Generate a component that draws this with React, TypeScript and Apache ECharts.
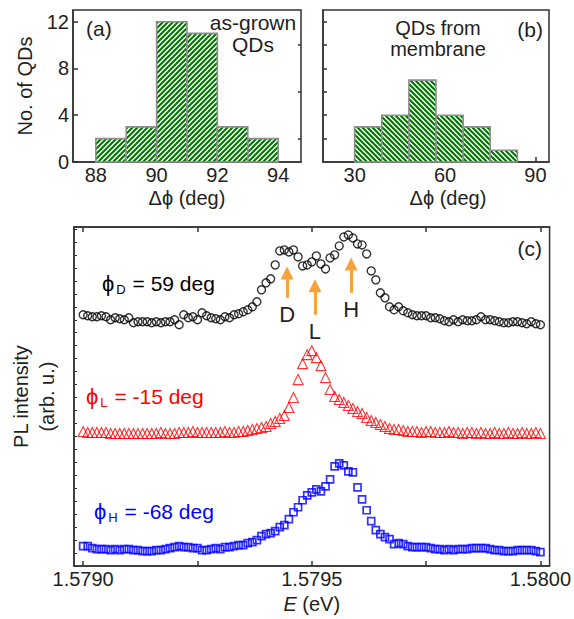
import React, { useEffect, useRef } from 'react';
import * as echarts from 'echarts';

const FONT = '"Liberation Sans", Arial, Helvetica, sans-serif';
const TXT = '#231f20';

// Histogram (a): as-grown QDs
const A_EDGES = [88, 89, 90, 91, 92, 93, 94];
const A_COUNTS = [2, 3, 12, 11, 3, 2];
// Histogram (b): QDs from membrane
const B_EDGES = [30, 39, 48, 57, 66, 75, 84];
const B_COUNTS = [3, 4, 7, 4, 3, 1];

const A_TICKS = [88, 90, 92, 94];
const B_TICKS = [30, 60, 90];
const COUNT_LABELS = [0, 4, 8, 12];
const COUNT_MINOR = [2, 6, 10];
const COUNT_B_TICKS = [2, 4, 6, 8, 10, 12];

const E_TICKS = [1.579, 1.57925, 1.5795, 1.57975, 1.58];
const E_LABELS = [1.579, 1.5795, 1.58];
const E_START = 1.579;
const E_STEP = 0.00001;

// PL spectra (arb. u., vertically offset as in the figure)
const PL_D = [
  252, 251, 250, 250, 251, 250, 247, 249, 248, 247,
  249, 244, 245, 245, 245, 244, 245, 244, 245, 245,
  247, 242, 252, 249, 250, 247, 254, 251, 249, 248,
  247, 250, 249, 252, 253, 255, 257, 260, 265, 277,
  284, 288, 302, 316, 317, 315, 317, 310, 301, 302,
  305, 311, 303, 298, 309, 312, 321, 330, 332, 329,
  323, 322, 313, 296, 287, 274, 269, 260, 257, 260,
  256, 254, 252, 251, 251, 251, 249, 249, 248, 246,
  245, 247, 245, 247, 246, 246, 247, 250, 247, 247,
  246, 245, 244, 244, 245, 245, 244, 243, 245, 243, 242,
];
const PL_L = [
  135, 134, 134, 134, 134, 134, 133, 133, 133, 133,
  133, 133, 133, 133, 133, 133, 133, 134, 133, 133,
  133, 134, 134, 134, 135, 134, 134, 134, 134, 134,
  134, 135, 134, 134, 135, 135, 136, 137, 138, 139,
  140, 143, 145, 148, 151, 159, 169, 187, 203, 212,
  216, 209, 201, 189, 177, 170, 167, 164, 161, 158,
  155, 153, 149, 146, 144, 142, 140, 138, 137, 137,
  136, 135, 135, 135, 134, 135, 135, 134, 134, 134,
  135, 134, 134, 133, 134, 134, 133, 134, 133, 133,
  134, 133, 133, 134, 133, 133, 134, 133, 133, 134, 133,
];
const PL_H = [
  20, 20, 18, 17, 17, 17, 16, 17, 16, 17,
  17, 16, 16, 15, 15, 15, 16, 16, 17, 18,
  19, 20, 19, 19, 18, 18, 16, 16, 17, 18,
  17, 19, 19, 20, 21, 21, 23, 24, 26, 30,
  32, 33, 35, 39, 41, 47, 54, 59, 66, 71,
  74, 77, 75, 80, 87, 100, 103, 101, 95, 94,
  79, 67, 56, 45, 36, 32, 29, 27, 22, 23,
  22, 20, 19, 19, 19, 19, 18, 17, 17, 16,
  17, 16, 17, 17, 17, 18, 18, 18, 18, 17,
  16, 16, 15, 15, 15, 16, 16, 16, 16, 15, 14,
];

// Peak markers (arrows) on the top spectrum
const ARROW_NAMES = ['D', 'L', 'H'];
const ARROW_E = [1.579446, 1.579507, 1.579586];
const ARROW_FROM = [269, 252, 274];
const ARROW_TO = [294, 281, 303];

function hatch(dir: string) {
  const s = 5;
  const c = document.createElement('canvas');
  c.width = s;
  c.height = s;
  const g = c.getContext('2d')!;
  g.fillStyle = '#ffffff';
  g.fillRect(0, 0, s, s);
  g.strokeStyle = '#007800';
  g.lineWidth = 2.1;
  g.beginPath();
  if (dir === '/') {
    g.moveTo(-1, s + 1); g.lineTo(s + 1, -1);
    g.moveTo(-1, 1); g.lineTo(1, -1);
    g.moveTo(s - 1, s + 1); g.lineTo(s + 1, s - 1);
  } else {
    g.moveTo(-1, -1); g.lineTo(s + 1, s + 1);
    g.moveTo(-1, s - 1); g.lineTo(1, s + 1);
    g.moveTo(s - 1, -1); g.lineTo(s + 1, 1);
  }
  g.stroke();
  return c;
}

function histData(edges: number[], counts: number[]) {
  return counts.map((c, i) => [edges[i], edges[i + 1], c]);
}

function spectrum(vals: number[]) {
  return vals.map((v, i) => [+(E_START + i * E_STEP).toFixed(6), v]);
}

const labelStyle = { fontSize: 20, fontFamily: FONT, color: TXT };
const axisLineStyle = { color: '#333', width: 1.5 };
const ANN = 21;

function phiLabel(sub: string, rest: string, color: string, x: number, y: number) {
  return {
    type: 'text',
    x,
    y,
    style: {
      text: `{p|ϕ}{s|${sub}}{t|${rest}}`,
      verticalAlign: 'middle',
      fill: color,
      rich: {
        p: { fontSize: 22, lineHeight: 26, fontFamily: FONT, fill: color },
        s: { fontSize: 13, lineHeight: 15, verticalAlign: 'bottom', fontFamily: FONT, fill: color, padding: [0, 1, 0, 2] },
        t: { fontSize: ANN, lineHeight: 26, fontFamily: FONT, fill: color },
      },
    },
  };
}

function note(text: string, x: number, y: number, align: string, size: number, lineHeight?: number) {
  return {
    type: 'text', x, y,
    style: { text, fontSize: size, fontFamily: FONT, fill: TXT, align, verticalAlign: 'middle', lineHeight: lineHeight || 24 },
  };
}

export default function App() {
  const ref = useRef<HTMLDivElement>(null);
  useEffect(() => {
    if (!ref.current) return;
    const chart = echarts.init(ref.current, null, { renderer: 'svg' });
    const patA = { image: hatch('/'), repeat: 'repeat' };
    const patB = { image: hatch('\\'), repeat: 'repeat' };
    const renderHist = (pat: any) => (params: any, api: any) => {
      const p0 = api.coord([api.value(0), 0]);
      const p1 = api.coord([api.value(1), api.value(2)]);
      return {
        type: 'rect',
        shape: { x: p0[0], y: p1[1], width: p1[0] - p0[0], height: p0[1] - p1[1] },
        style: { fill: pat, stroke: '#8f8f8f', lineWidth: 1.6 },
      };
    };
    const gridBase = { show: true, borderColor: '#333', borderWidth: 1.5, backgroundColor: 'transparent' };
    const option: any = {
      animation: false,
      grid: [
        { ...gridBase, left: 73, top: 10, width: 228, height: 152 },
        { ...gridBase, left: 323, top: 10, width: 226, height: 152 },
        { ...gridBase, left: 74, top: 227, width: 476, height: 340 },
      ],
      xAxis: [
        {
          gridIndex: 0, type: 'value', min: 87.25, max: 94.75,
          axisLine: { onZero: false, lineStyle: axisLineStyle },
          axisTick: { inside: true, length: 5, customValues: A_TICKS, lineStyle: axisLineStyle },
          axisLabel: { ...labelStyle, margin: 3, customValues: A_TICKS },
          splitLine: { show: false },
          name: 'Δϕ (deg)', nameLocation: 'middle', nameGap: 26, nameTextStyle: labelStyle,
        },
        {
          gridIndex: 1, type: 'value', min: 19.5, max: 94.5,
          axisLine: { onZero: false, lineStyle: axisLineStyle },
          axisTick: { inside: true, length: 5, customValues: B_TICKS, lineStyle: axisLineStyle },
          axisLabel: { ...labelStyle, margin: 3, customValues: B_TICKS },
          splitLine: { show: false },
          name: 'Δϕ (deg)', nameLocation: 'middle', nameGap: 26,
          nameTextStyle: { ...labelStyle, padding: [0, 0, 0, 24] },
        },
        {
          gridIndex: 2, type: 'value', min: 1.57898, max: 1.58002,
          axisLine: { onZero: false, lineStyle: axisLineStyle },
          axisTick: { inside: true, length: 5, customValues: E_TICKS, lineStyle: axisLineStyle },
          axisLabel: { ...labelStyle, margin: 3, customValues: E_LABELS, formatter: (v: number) => v.toFixed(4) },
          splitLine: { show: false },
          name: '{i|E} (eV)', nameLocation: 'middle', nameGap: 20,
          nameTextStyle: { ...labelStyle, rich: { i: { fontStyle: 'italic', fontSize: 20, fontFamily: FONT, color: TXT } } },
        },
        {
          gridIndex: 2, type: 'value', min: 1.57898, max: 1.58002, position: 'top',
          axisLine: { onZero: false, lineStyle: axisLineStyle },
          axisTick: { inside: true, length: 5, customValues: E_TICKS, lineStyle: axisLineStyle },
          axisLabel: { show: false },
          splitLine: { show: false },
        },
      ],
      yAxis: [
        {
          gridIndex: 0, type: 'value', min: 0, max: 13,
          axisLine: { onZero: false, lineStyle: axisLineStyle },
          axisTick: { inside: true, length: 5, customValues: COUNT_LABELS, lineStyle: axisLineStyle },
          axisLabel: { ...labelStyle, margin: 4, customValues: COUNT_LABELS },
          splitLine: { show: false },
          name: 'No. of QDs', nameLocation: 'middle', nameGap: 38, nameTextStyle: labelStyle,
        },
        {
          gridIndex: 0, type: 'value', min: 0, max: 13,
          axisLine: { show: false },
          axisTick: { inside: true, length: 3, customValues: COUNT_MINOR, lineStyle: axisLineStyle },
          axisLabel: { show: false },
          splitLine: { show: false },
        },
        {
          gridIndex: 1, type: 'value', min: 0, max: 13,
          axisLine: { onZero: false, lineStyle: axisLineStyle },
          axisTick: { inside: true, length: 4, customValues: COUNT_B_TICKS, lineStyle: axisLineStyle },
          axisLabel: { show: false },
          splitLine: { show: false },
        },
        {
          gridIndex: 2, type: 'value', min: 0, max: 340, interval: 13,
          axisLine: { onZero: false, lineStyle: axisLineStyle },
          axisTick: { inside: true, length: 3, lineStyle: { color: '#333', width: 1 } },
          axisLabel: { show: false },
          splitLine: { show: false },
          name: 'PL intensity\n(arb. u.)', nameLocation: 'middle', nameGap: 14,
          nameTextStyle: { ...labelStyle, lineHeight: 26 },
        },
      ],
      series: [
        {
          type: 'custom', xAxisIndex: 0, yAxisIndex: 0,
          renderItem: renderHist(patA), data: histData(A_EDGES, A_COUNTS),
          encode: { x: [0, 1], y: 2 },
        },
        {
          type: 'custom', xAxisIndex: 1, yAxisIndex: 2,
          renderItem: renderHist(patB), data: histData(B_EDGES, B_COUNTS),
          encode: { x: [0, 1], y: 2 },
        },
        {
          type: 'scatter', xAxisIndex: 2, yAxisIndex: 3, symbol: 'circle', symbolSize: 8,
          itemStyle: { color: 'rgba(0,0,0,0)', borderColor: '#000', borderWidth: 1.4 },
          data: spectrum(PL_D),
          markLine: {
            silent: true, symbol: ['none', 'triangle'], symbolSize: 13, precision: 6,
            lineStyle: { color: '#F7A23B', width: 3, type: 'solid' },
            label: { show: true, position: 'start', formatter: '{b}', fontSize: 22, fontFamily: FONT, color: TXT, distance: 6 },
            data: ARROW_NAMES.map((n, i) => [
              { name: n, coord: [ARROW_E[i], ARROW_FROM[i]] },
              { coord: [ARROW_E[i], ARROW_TO[i]] },
            ]),
          },
        },
        {
          type: 'scatter', xAxisIndex: 2, yAxisIndex: 3, symbol: 'triangle', symbolSize: 10,
          itemStyle: { color: 'rgba(0,0,0,0)', borderColor: '#ff0000', borderWidth: 1.1 },
          data: spectrum(PL_L),
        },
        {
          type: 'scatter', xAxisIndex: 2, yAxisIndex: 3, symbol: 'rect', symbolSize: 7,
          itemStyle: { color: 'rgba(0,0,0,0)', borderColor: '#0000ff', borderWidth: 1.7 },
          data: spectrum(PL_H),
        },
      ],
      graphic: [
        note('(a)', 86, 28, 'left', ANN),
        note('as-grown\nQDs', 253, 33, 'center', ANN, 22),
        note('QDs from\nmembrane', 438, 38, 'center', 20, 21),
        note('(b)', 543, 29, 'right', ANN),
        note('(c)', 542, 248, 'right', ANN),
        phiLabel('D', ' = 59 deg', '#000000', 102, 283),
        phiLabel('L', ' = -15 deg', '#ff0000', 86, 396),
        phiLabel('H', ' = -68 deg', '#0000ff', 94, 511),
      ],
    };
    chart.setOption(option);
    return () => chart.dispose();
  }, []);
  return (
    <div
      ref={ref}
      style={{ position: 'absolute', left: 0, top: 0, width: 574, height: 619, background: '#fff' }}
    />
  );
}
